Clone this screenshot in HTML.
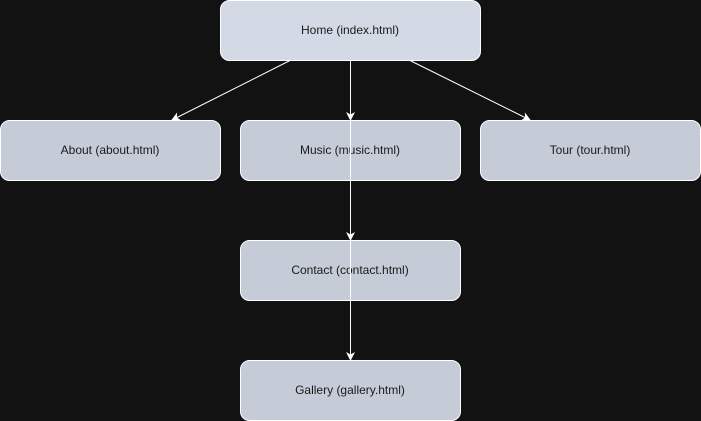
<!DOCTYPE html>
<html><head><meta charset="utf-8"><style>
html,body{margin:0;padding:0;background:#121212;width:701px;height:421px;overflow:hidden}
svg{display:block}
text{font-family:"Liberation Sans",sans-serif;font-size:12px;fill:#1a1a1a}
</style></head><body>
<svg width="701" height="421" viewBox="0 0 701 421">
<defs><marker id="a" markerWidth="10" markerHeight="10" refX="8" refY="5" orient="auto" markerUnits="userSpaceOnUse"><path d="M0,0.5 L9,5 L0,9.5 L2.5,5 Z" fill="#fff"/></marker></defs>
<g stroke="#fff" stroke-width="1">
<rect x="220.5" y="0.5" width="260" height="60" rx="9" fill="#d4d9e6"/>
<rect x="0.5" y="120.5" width="220" height="60" rx="9" fill="#c5ccd7"/>
<rect x="240.5" y="120.5" width="220" height="60" rx="9" fill="#c5ccd7"/>
<rect x="480.5" y="120.5" width="220" height="60" rx="9" fill="#c5ccd7"/>
<rect x="240.5" y="240.5" width="220" height="60" rx="9" fill="#c5ccd7"/>
<rect x="240.5" y="360.5" width="220" height="60" rx="9" fill="#c5ccd7"/>
</g>
<text x="350" y="34" text-anchor="middle">Home (index.html)</text>
<text x="110" y="154" text-anchor="middle">About (about.html)</text>
<text x="350" y="154" text-anchor="middle">Music (music.html)</text>
<text x="590" y="154" text-anchor="middle">Tour (tour.html)</text>
<text x="350" y="274" text-anchor="middle">Contact (contact.html)</text>
<text x="350" y="394" text-anchor="middle">Gallery (gallery.html)</text>
<g stroke="#fff" stroke-width="1" fill="none">
<line x1="290" y1="60.5" x2="172" y2="120" marker-end="url(#a)"/>
<line x1="350.5" y1="60.5" x2="350.5" y2="120" marker-end="url(#a)"/>
<line x1="410" y1="60.5" x2="530" y2="120" marker-end="url(#a)"/>
<line x1="350.5" y1="120" x2="350.5" y2="240" marker-end="url(#a)"/>
<line x1="350.5" y1="240" x2="350.5" y2="360" marker-end="url(#a)"/>
</g>
</svg>
</body></html>
